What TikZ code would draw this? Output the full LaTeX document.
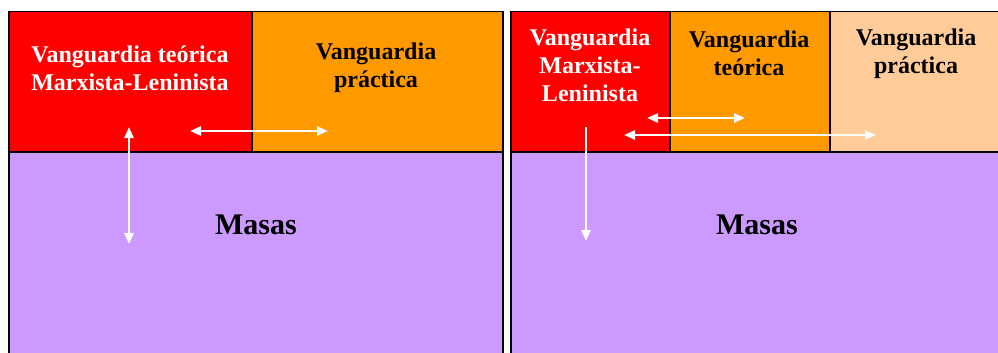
\documentclass[tikz,border=0pt]{standalone}
\usepackage{fontspec}
\setmainfont{Liberation Serif}
\usetikzlibrary{arrows.meta,positioning}
\definecolor{rojo}{RGB}{255,0,0}
\definecolor{naranja}{RGB}{255,153,0}
\definecolor{melon}{RGB}{255,204,153}
\definecolor{lila}{RGB}{204,153,255}
\tikzset{
  >={Triangle[length=11pt,width=9pt]},
  caja/.style={draw=black,line width=1.5pt,anchor=north west,inner sep=0pt},
  rot/.style={align=center,inner sep=0pt,font=\fontsize{24}{28}\selectfont\bfseries},
  masa/.style={inner sep=0pt,font=\fontsize{30}{34}\selectfont\bfseries},
  flecha/.style={white,line width=2.6pt},
}
\begin{document}
\begin{tikzpicture}[x=1pt,y=1pt]
  \useasboundingbox (0,0) rectangle (998,-353);

  % panel izquierdo
  \node[caja,fill=lila,minimum width=494pt,minimum height=206pt] (m1) at (8,-151) {};
  \node[caja,fill=rojo,minimum width=243pt,minimum height=140pt] (r1) at (8,-11) {};
  \node[caja,fill=naranja,minimum width=251pt,minimum height=140pt] (o1) at (251,-11) {};

  \node[rot,text=white] (tr1) at (130,-68) {Vanguardia te\'orica\\Marxista-Leninista};
  \node[rot] (to1) at (376,-68) {Vanguardia\\pr\'actica};
  \node[masa] (tm1) at (256,-225) {Masas};

  % panel derecho
  \node[caja,fill=lila,minimum width=490pt,minimum height=206pt] (m2) at (510,-151) {};
  \node[caja,fill=rojo,minimum width=159pt,minimum height=140pt] (r2) at (510,-11) {};
  \node[caja,fill=naranja,minimum width=160pt,minimum height=140pt] (o2) at (669,-11) {};
  \node[caja,fill=melon,minimum width=171pt,minimum height=140pt] (p2) at (829,-11) {};

  \node[rot,text=white] (tr2) at (590,-65) {Vanguardia\\Marxista-\\Leninista};
  \node[rot] (to2) at (749,-53) {Vanguardia\\te\'orica};
  \node[rot] (tp2) at (916,-54) {Vanguardia\\pr\'actica};
  \node[masa] (tm2) at (757,-225) {Masas};

  % extremos de flechas
  \coordinate (a1) at (129,-127);
  \coordinate (b1) at (129,-244);
  \coordinate (c1) at (190,-131);
  \coordinate (d1) at (328,-131);
  \coordinate (a2) at (586,-127);
  \coordinate (b2) at (586,-241);
  \coordinate (c2) at (647,-118);
  \coordinate (d2) at (745,-118);
  \coordinate (e2) at (624,-135);
  \coordinate (f2) at (876,-135);

  \draw[flecha,<->] (a1) -- (b1);
  \draw[flecha,<->] (c1) -- (d1);
  \draw[flecha,->] (a2) -- (b2);
  \draw[flecha,<->] (c2) -- (d2);
  \draw[flecha,<->] (e2) -- (f2);
\end{tikzpicture}
\end{document}
